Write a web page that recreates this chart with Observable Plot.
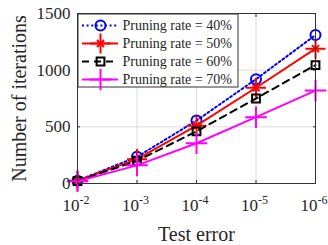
<!DOCTYPE html>
<html><head><meta charset="utf-8">
<script src="https://cdn.jsdelivr.net/npm/d3@7"></script>
<script src="https://cdn.jsdelivr.net/npm/@observablehq/plot@0.6"></script>
<style>
body{margin:0;background:#fff}
#wrap{position:relative;width:328px;height:245px;overflow:hidden}
#chart{position:absolute;left:0;top:0;width:328px;height:245px}
#legend{position:absolute;left:77px;top:13px;width:161px;height:74px}
svg{font-family:"Liberation Serif","Times New Roman",serif;overflow:visible;max-width:none !important}
g[aria-label="y-axis label"] text, g[aria-label="x-axis label"] text{font-size:20px}
</style></head><body><div id="wrap"><div id="chart"></div><div id="legend"></div></div>
<script>
const exponents = [2, 3, 4, 5, 6];
const tickBase = "10";
const tickExp = ["-2", "-3", "-4", "-5", "-6"];
const yTicks = [0, 500, 1000, 1500];
const seriesNames = ["Pruning rate = 40%", "Pruning rate = 50%", "Pruning rate = 60%", "Pruning rate = 70%"];
const rate40 = [25, 235, 555, 920, 1310];
const rate50 = [25, 215, 510, 845, 1190];
const rate60 = [22, 200, 460, 750, 1045];
const rate70 = [20, 160, 355, 585, 820];

const colors = ["#0000ff", "#ff0000", "#000000", "#ff00ff"];
const dashes = ["2,2.6", null, "7,5", null];
const allSeries = [rate40, rate50, rate60, rate70];
const rows = allSeries.map((vals, si) => vals.map((v, i) => ({s: seriesNames[si], x: exponents[i], y: v})));

function markerMarks(data, si, opts) {
  const c = colors[si];
  const base = {stroke: c, strokeWidth: 2, fill: "none", ...opts};
  if (si === 0) return [Plot.dot(data, {...base, symbol: "circle", r: 5})];
  if (si === 1) return [Plot.dot(data, {...base, symbol: "plus", r: 6.5}), Plot.dot(data, {...base, symbol: "times", r: 3.3})];
  if (si === 2) return [Plot.dot(data, {...base, symbol: "square", r: 4.4})];
  return [Plot.dot(data, {...base, symbol: "plus", r: 7})];
}

const marks = [
  Plot.gridX(exponents, {stroke: "#dcdcdc", strokeOpacity: 1}),
  Plot.gridY(yTicks, {stroke: "#dcdcdc", strokeOpacity: 1}),
];
rows.forEach((r, si) => {
  marks.push(Plot.line(r, {x: "x", y: "y", stroke: colors[si], strokeWidth: 2, strokeDasharray: dashes[si]}));
  marks.push(...markerMarks(r, si, {x: "x", y: "y"}));
});
const tickStyle = {tickSize: -3, tickFormat: () => "", label: null, color: "#333"};
marks.push(
  Plot.frame({stroke: "#333", strokeWidth: 1}),
  Plot.axisX({...tickStyle, anchor: "bottom", ticks: exponents}),
  Plot.axisX({...tickStyle, anchor: "top", ticks: exponents}),
  Plot.axisY({...tickStyle, anchor: "left", ticks: yTicks}),
  Plot.axisY({...tickStyle, anchor: "right", ticks: yTicks}),
  Plot.axisY({ticks: yTicks, tickFormat: d => String(d), tickSize: 0, tickPadding: 7, fontSize: 17, label: "Number of iterations", labelAnchor: "center", labelOffset: 66, labelArrow: "none", color: "#262626"}),
  Plot.axisX({ticks: [], tickSize: 0, label: "Test error", labelAnchor: "center", labelOffset: 57, labelArrow: "none", color: "#262626"}),
  Plot.text(exponents, {x: d => d, frameAnchor: "bottom", text: () => tickBase, dy: 27, dx: 2, textAnchor: "end", lineAnchor: "bottom", fontSize: 17, fill: "#262626"}),
  Plot.text(exponents.map((e, i) => ({e, t: tickExp[i]})), {x: "e", text: "t", frameAnchor: "bottom", dy: 20, dx: 2, textAnchor: "start", lineAnchor: "bottom", fontSize: 12, fill: "#262626"})
);

const chart = Plot.plot({
  width: 328, height: 245,
  marginLeft: 77, marginRight: 13, marginTop: 13, marginBottom: 62,
  x: {domain: [2, 6], axis: null},
  y: {domain: [0, 1500], axis: null},
  marks
});
document.getElementById("chart").append(chart);

const legMarks = [Plot.frame({fill: "white", stroke: "#333", inset: 0.5})];
seriesNames.forEach((name, si) => {
  legMarks.push(Plot.ruleY([name], {y: d => d, x1: 5, x2: 41, stroke: colors[si], strokeWidth: 2, strokeDasharray: dashes[si]}));
  legMarks.push(...markerMarks([name], si, {x: 23, y: d => d}));
});
legMarks.push(Plot.text(seriesNames, {x: 45, y: d => d, text: d => d, textAnchor: "start", fontSize: 14, fill: "#262626"}));
const legend = Plot.plot({
  width: 161, height: 74, margin: 0,
  x: {domain: [0, 161], range: [0, 161], axis: null},
  y: {type: "point", domain: seriesNames, range: [12, 66], padding: 0, axis: null},
  marks: legMarks
});
document.getElementById("legend").append(legend);
</script></body></html>
